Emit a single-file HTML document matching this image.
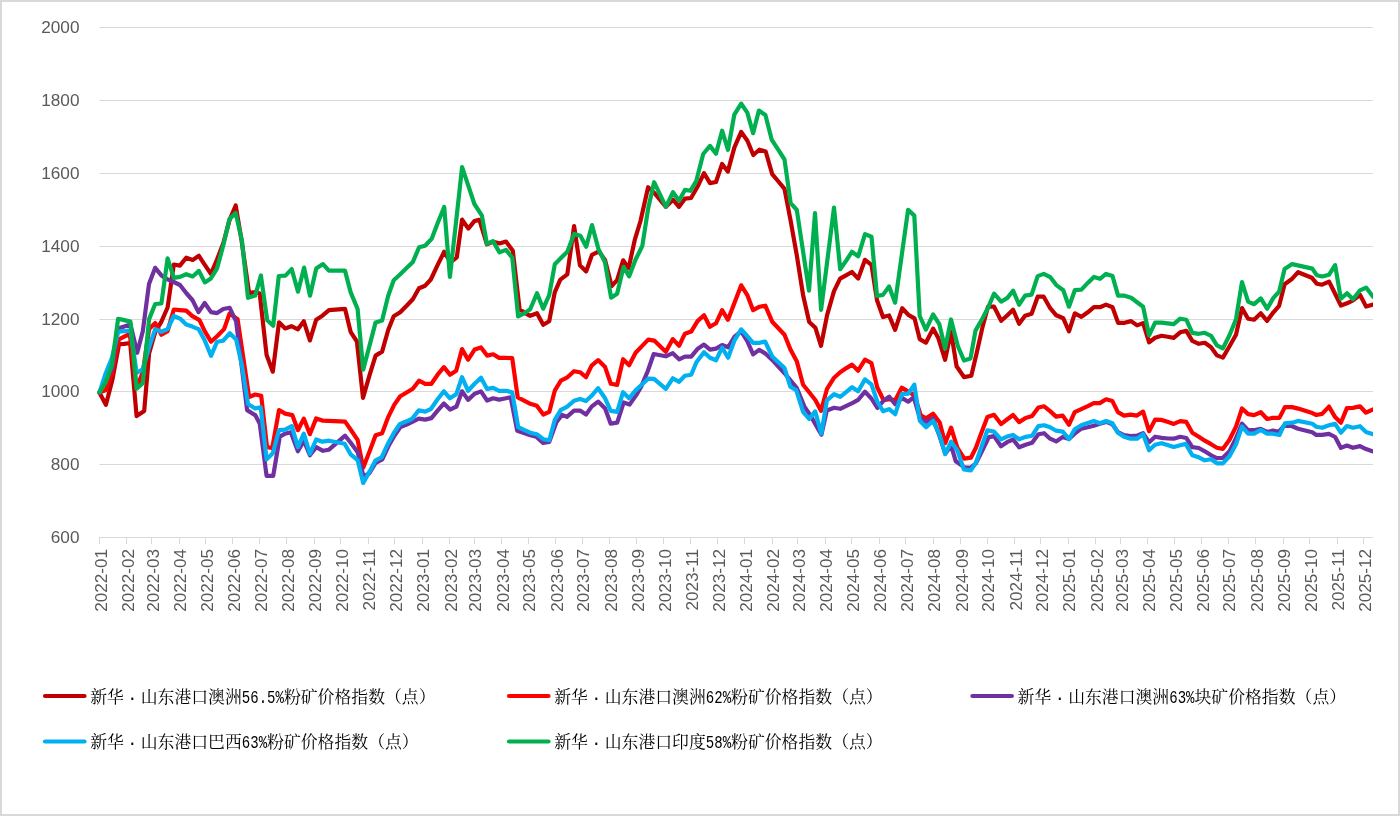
<!DOCTYPE html>
<html lang="zh-CN"><head><meta charset="utf-8"><title>新华·山东港口铁矿石价格指数</title>
<style>
html,body{margin:0;padding:0;background:#fff;}
body{width:1400px;height:816px;overflow:hidden;position:relative;font-family:"Liberation Sans","Noto Sans CJK SC",sans-serif;}
#chart{position:absolute;left:0;top:0;width:1400px;height:816px;box-sizing:border-box;border:2px solid #d9d9d9;}
svg{position:absolute;left:0;top:0;}
.yl{position:absolute;left:0;width:79.5px;text-align:right;font-size:17.2px;color:#595959;line-height:20px;height:20px;}
.xl{position:absolute;top:548px;font-size:17.1px;color:#595959;line-height:20px;height:20px;width:64px;text-align:right;transform-origin:0 0;transform:rotate(-90deg);white-space:nowrap;}
.lg{position:absolute;font-family:"Liberation Mono","Noto Serif CJK SC",serif;font-size:16.85px;color:#000;line-height:20px;height:20px;white-space:nowrap;font-weight:400;}
.lg i{font-style:normal;display:inline-block;width:16.85px;text-align:center;}
.lg b{font-weight:400;font-family:"Liberation Mono",monospace;font-size:14.04px;display:inline-block;transform:scale(1,1.25);transform-origin:50% 76%;}
</style></head><body>
<div id="chart"></div>

<div class="yl" style="top:16.5px">2000</div>
<div class="yl" style="top:89.5px">1800</div>
<div class="yl" style="top:162.5px">1600</div>
<div class="yl" style="top:235.5px">1400</div>
<div class="yl" style="top:308.5px">1200</div>
<div class="yl" style="top:380.5px">1000</div>
<div class="yl" style="top:453.5px">800</div>
<div class="yl" style="top:526.5px">600</div>
<div class="xl" style="left:91.5px;top:613.2px">2022-01</div>
<div class="xl" style="left:119.0px;top:613.2px">2022-02</div>
<div class="xl" style="left:143.7px;top:613.2px">2022-03</div>
<div class="xl" style="left:171.1px;top:613.2px">2022-04</div>
<div class="xl" style="left:197.6px;top:613.2px">2022-05</div>
<div class="xl" style="left:225.0px;top:613.2px">2022-06</div>
<div class="xl" style="left:251.6px;top:613.2px">2022-07</div>
<div class="xl" style="left:279.0px;top:613.2px">2022-08</div>
<div class="xl" style="left:306.4px;top:613.2px">2022-09</div>
<div class="xl" style="left:332.9px;top:613.2px">2022-10</div>
<div class="xl" style="left:360.3px;top:613.2px">2022-11</div>
<div class="xl" style="left:386.8px;top:613.2px">2022-12</div>
<div class="xl" style="left:414.2px;top:613.2px">2023-01</div>
<div class="xl" style="left:441.6px;top:613.2px">2023-02</div>
<div class="xl" style="left:466.4px;top:613.2px">2023-03</div>
<div class="xl" style="left:493.8px;top:613.2px">2023-04</div>
<div class="xl" style="left:520.3px;top:613.2px">2023-05</div>
<div class="xl" style="left:547.7px;top:613.2px">2023-06</div>
<div class="xl" style="left:574.2px;top:613.2px">2023-07</div>
<div class="xl" style="left:601.6px;top:613.2px">2023-08</div>
<div class="xl" style="left:629.0px;top:613.2px">2023-09</div>
<div class="xl" style="left:655.5px;top:613.2px">2023-10</div>
<div class="xl" style="left:682.9px;top:613.2px">2023-11</div>
<div class="xl" style="left:709.5px;top:613.2px">2023-12</div>
<div class="xl" style="left:736.9px;top:613.2px">2024-01</div>
<div class="xl" style="left:764.3px;top:613.2px">2024-02</div>
<div class="xl" style="left:789.9px;top:613.2px">2024-03</div>
<div class="xl" style="left:817.3px;top:613.2px">2024-04</div>
<div class="xl" style="left:843.8px;top:613.2px">2024-05</div>
<div class="xl" style="left:871.2px;top:613.2px">2024-06</div>
<div class="xl" style="left:897.7px;top:613.2px">2024-07</div>
<div class="xl" style="left:925.1px;top:613.2px">2024-08</div>
<div class="xl" style="left:952.6px;top:613.2px">2024-09</div>
<div class="xl" style="left:979.1px;top:613.2px">2024-10</div>
<div class="xl" style="left:1006.5px;top:613.2px">2024-11</div>
<div class="xl" style="left:1033.0px;top:613.2px">2024-12</div>
<div class="xl" style="left:1060.4px;top:613.2px">2025-01</div>
<div class="xl" style="left:1087.8px;top:613.2px">2025-02</div>
<div class="xl" style="left:1112.6px;top:613.2px">2025-03</div>
<div class="xl" style="left:1140.0px;top:613.2px">2025-04</div>
<div class="xl" style="left:1166.5px;top:613.2px">2025-05</div>
<div class="xl" style="left:1193.9px;top:613.2px">2025-06</div>
<div class="xl" style="left:1220.4px;top:613.2px">2025-07</div>
<div class="xl" style="left:1247.8px;top:613.2px">2025-08</div>
<div class="xl" style="left:1275.2px;top:613.2px">2025-09</div>
<div class="xl" style="left:1301.7px;top:613.2px">2025-10</div>
<div class="xl" style="left:1329.1px;top:613.2px">2025-11</div>
<div class="xl" style="left:1355.6px;top:613.2px">2025-12</div>
<svg width="1400" height="816" viewBox="0 0 1400 816">
<line x1="99.5" x2="1373" y1="27.5" y2="27.5" stroke="#d9d9d9" stroke-width="1"/>
<line x1="99.5" x2="1373" y1="100.5" y2="100.5" stroke="#d9d9d9" stroke-width="1"/>
<line x1="99.5" x2="1373" y1="173.5" y2="173.5" stroke="#d9d9d9" stroke-width="1"/>
<line x1="99.5" x2="1373" y1="246.5" y2="246.5" stroke="#d9d9d9" stroke-width="1"/>
<line x1="99.5" x2="1373" y1="319.5" y2="319.5" stroke="#d9d9d9" stroke-width="1"/>
<line x1="99.5" x2="1373" y1="391.5" y2="391.5" stroke="#d9d9d9" stroke-width="1"/>
<line x1="99.5" x2="1373" y1="464.5" y2="464.5" stroke="#d9d9d9" stroke-width="1"/>
<line x1="99.5" x2="1373" y1="537.5" y2="537.5" stroke="#d9d9d9" stroke-width="1"/>
<line x1="99.5" x2="99.5" y1="537" y2="544" stroke="#d9d9d9" stroke-width="1"/>
<line x1="126.5" x2="126.5" y1="537" y2="544" stroke="#d9d9d9" stroke-width="1"/>
<line x1="151.5" x2="151.5" y1="537" y2="544" stroke="#d9d9d9" stroke-width="1"/>
<line x1="179.5" x2="179.5" y1="537" y2="544" stroke="#d9d9d9" stroke-width="1"/>
<line x1="205.5" x2="205.5" y1="537" y2="544" stroke="#d9d9d9" stroke-width="1"/>
<line x1="232.5" x2="232.5" y1="537" y2="544" stroke="#d9d9d9" stroke-width="1"/>
<line x1="259.5" x2="259.5" y1="537" y2="544" stroke="#d9d9d9" stroke-width="1"/>
<line x1="286.5" x2="286.5" y1="537" y2="544" stroke="#d9d9d9" stroke-width="1"/>
<line x1="314.5" x2="314.5" y1="537" y2="544" stroke="#d9d9d9" stroke-width="1"/>
<line x1="340.5" x2="340.5" y1="537" y2="544" stroke="#d9d9d9" stroke-width="1"/>
<line x1="368.5" x2="368.5" y1="537" y2="544" stroke="#d9d9d9" stroke-width="1"/>
<line x1="394.5" x2="394.5" y1="537" y2="544" stroke="#d9d9d9" stroke-width="1"/>
<line x1="422.5" x2="422.5" y1="537" y2="544" stroke="#d9d9d9" stroke-width="1"/>
<line x1="449.5" x2="449.5" y1="537" y2="544" stroke="#d9d9d9" stroke-width="1"/>
<line x1="474.5" x2="474.5" y1="537" y2="544" stroke="#d9d9d9" stroke-width="1"/>
<line x1="501.5" x2="501.5" y1="537" y2="544" stroke="#d9d9d9" stroke-width="1"/>
<line x1="528.5" x2="528.5" y1="537" y2="544" stroke="#d9d9d9" stroke-width="1"/>
<line x1="555.5" x2="555.5" y1="537" y2="544" stroke="#d9d9d9" stroke-width="1"/>
<line x1="582.5" x2="582.5" y1="537" y2="544" stroke="#d9d9d9" stroke-width="1"/>
<line x1="609.5" x2="609.5" y1="537" y2="544" stroke="#d9d9d9" stroke-width="1"/>
<line x1="636.5" x2="636.5" y1="537" y2="544" stroke="#d9d9d9" stroke-width="1"/>
<line x1="663.5" x2="663.5" y1="537" y2="544" stroke="#d9d9d9" stroke-width="1"/>
<line x1="690.5" x2="690.5" y1="537" y2="544" stroke="#d9d9d9" stroke-width="1"/>
<line x1="717.5" x2="717.5" y1="537" y2="544" stroke="#d9d9d9" stroke-width="1"/>
<line x1="744.5" x2="744.5" y1="537" y2="544" stroke="#d9d9d9" stroke-width="1"/>
<line x1="772.5" x2="772.5" y1="537" y2="544" stroke="#d9d9d9" stroke-width="1"/>
<line x1="797.5" x2="797.5" y1="537" y2="544" stroke="#d9d9d9" stroke-width="1"/>
<line x1="825.5" x2="825.5" y1="537" y2="544" stroke="#d9d9d9" stroke-width="1"/>
<line x1="851.5" x2="851.5" y1="537" y2="544" stroke="#d9d9d9" stroke-width="1"/>
<line x1="879.5" x2="879.5" y1="537" y2="544" stroke="#d9d9d9" stroke-width="1"/>
<line x1="905.5" x2="905.5" y1="537" y2="544" stroke="#d9d9d9" stroke-width="1"/>
<line x1="933.5" x2="933.5" y1="537" y2="544" stroke="#d9d9d9" stroke-width="1"/>
<line x1="960.5" x2="960.5" y1="537" y2="544" stroke="#d9d9d9" stroke-width="1"/>
<line x1="987.5" x2="987.5" y1="537" y2="544" stroke="#d9d9d9" stroke-width="1"/>
<line x1="1014.5" x2="1014.5" y1="537" y2="544" stroke="#d9d9d9" stroke-width="1"/>
<line x1="1040.5" x2="1040.5" y1="537" y2="544" stroke="#d9d9d9" stroke-width="1"/>
<line x1="1068.5" x2="1068.5" y1="537" y2="544" stroke="#d9d9d9" stroke-width="1"/>
<line x1="1095.5" x2="1095.5" y1="537" y2="544" stroke="#d9d9d9" stroke-width="1"/>
<line x1="1120.5" x2="1120.5" y1="537" y2="544" stroke="#d9d9d9" stroke-width="1"/>
<line x1="1147.5" x2="1147.5" y1="537" y2="544" stroke="#d9d9d9" stroke-width="1"/>
<line x1="1174.5" x2="1174.5" y1="537" y2="544" stroke="#d9d9d9" stroke-width="1"/>
<line x1="1201.5" x2="1201.5" y1="537" y2="544" stroke="#d9d9d9" stroke-width="1"/>
<line x1="1228.5" x2="1228.5" y1="537" y2="544" stroke="#d9d9d9" stroke-width="1"/>
<line x1="1255.5" x2="1255.5" y1="537" y2="544" stroke="#d9d9d9" stroke-width="1"/>
<line x1="1283.5" x2="1283.5" y1="537" y2="544" stroke="#d9d9d9" stroke-width="1"/>
<line x1="1309.5" x2="1309.5" y1="537" y2="544" stroke="#d9d9d9" stroke-width="1"/>
<line x1="1337.5" x2="1337.5" y1="537" y2="544" stroke="#d9d9d9" stroke-width="1"/>
<line x1="1363.5" x2="1363.5" y1="537" y2="544" stroke="#d9d9d9" stroke-width="1"/>
<clipPath id="cp"><rect x="97" y="20" width="1276" height="530"/></clipPath>
<g clip-path="url(#cp)" fill="none" stroke-width="4.2" stroke-linejoin="round" stroke-linecap="round">
<polyline stroke="#C00000" points="99.5,392.8 105.9,404.8 112.3,380.2 119.1,344.2 124.2,343.8 130.2,343.0 136.6,416.1 144.2,410.9 149.1,353.3 155.2,332.2 161.4,321.6 167.6,307.5 173.8,264.5 179.9,265.6 186.2,257.7 192.7,259.9 198.9,255.8 204.8,264.8 210.9,273.9 217.1,259.3 223.3,243.2 229.5,220.1 235.7,205.5 241.5,240.2 249.1,293.1 255.2,292.1 259.7,293.6 266.6,355.1 272.8,371.7 279.0,322.3 285.2,328.4 291.4,326.2 297.9,329.3 303.8,321.3 309.9,340.4 316.2,319.7 322.4,315.7 329.0,310.2 345.1,308.9 350.6,331.8 356.9,341.5 363.0,397.8 369.4,375.7 375.6,355.6 382.1,351.6 388.2,330.0 393.7,316.3 400.2,312.3 406.6,305.8 412.8,299.2 419.0,288.2 425.2,285.7 430.8,279.5 437.8,264.7 444.2,251.8 450.4,262.3 456.8,257.3 462.1,219.6 468.3,228.6 474.4,221.1 479.4,219.8 486.9,244.3 493.0,241.7 499.5,243.4 506.0,241.5 512.8,250.8 519.6,309.2 524.6,312.8 530.2,315.8 537.0,313.2 543.2,324.8 549.2,321.3 554.8,292.2 560.3,279.6 567.3,274.4 574.1,226.1 579.9,265.3 586.2,271.4 592.0,254.8 598.9,251.3 605.1,260.3 611.6,286.1 617.1,280.1 623.1,260.3 628.6,268.3 634.7,240.2 640.5,221.0 648.1,187.2 654.1,192.7 665.9,206.8 673.0,199.7 679.0,206.8 684.9,198.7 691.0,198.0 697.5,186.8 704.0,173.2 710.0,183.1 716.0,182.0 722.1,163.9 727.8,171.6 734.4,147.4 741.2,131.9 747.4,140.7 753.3,155.0 759.3,149.7 765.7,151.5 772.2,174.2 778.4,181.5 784.5,188.8 790.7,221.2 796.8,255.3 803.1,295.2 809.2,322.0 815.4,327.8 821.0,345.8 827.1,315.2 834.0,291.1 840.1,278.6 846.4,275.1 851.9,272.0 858.2,278.6 865.0,259.8 871.5,264.9 877.0,300.2 883.0,317.0 889.1,315.5 895.1,329.9 902.2,308.2 908.3,314.8 914.5,318.3 919.7,339.1 925.9,342.7 933.1,328.6 938.3,338.1 945.1,359.8 951.0,331.6 956.6,366.3 964.0,377.1 971.3,375.8 976.4,354.2 982.6,326.6 988.0,306.7 994.1,306.7 1001.2,320.8 1007.4,315.3 1013.1,309.7 1019.1,323.8 1025.1,315.8 1031.6,313.8 1037.7,296.7 1043.7,296.7 1050.2,308.2 1056.3,315.3 1063.3,318.3 1069.0,331.4 1074.8,313.3 1081.4,316.8 1087.8,312.3 1093.9,307.2 1100.0,307.2 1106.0,304.6 1112.5,307.2 1118.1,322.8 1124.6,322.8 1131.1,321.1 1137.1,325.4 1143.1,323.1 1149.1,342.3 1155.1,337.8 1161.6,335.8 1167.7,336.8 1173.7,337.9 1180.2,332.3 1186.3,330.9 1192.3,340.8 1198.8,343.8 1204.8,342.8 1211.1,347.3 1216.9,355.4 1222.9,357.6 1229.5,346.3 1236.0,334.8 1242.0,308.1 1248.1,318.7 1254.1,319.7 1260.8,313.3 1267.1,320.8 1273.4,312.3 1279.1,305.8 1284.6,284.2 1292.2,278.7 1298.1,272.2 1311.8,277.7 1316.7,283.7 1322.1,284.7 1329.1,281.6 1335.1,293.8 1340.9,305.5 1347.0,303.3 1353.0,300.3 1360.0,294.8 1366.1,306.6 1373.1,304.6"/>
<polyline stroke="#FF0000" points="99.5,392.3 105.7,390.3 111.9,373.2 118.9,339.4 124.2,336.7 129.7,334.0 136.6,387.7 142.8,372.2 149.1,329.1 155.2,323.1 161.4,334.7 167.6,331.2 173.8,309.5 180.0,310.1 186.2,310.6 192.4,316.1 199.5,320.1 204.7,331.2 211.0,341.7 217.1,336.2 224.1,329.1 229.5,313.6 237.6,319.2 249.1,397.0 255.2,394.5 261.2,395.8 267.0,447.0 272.2,448.3 279.0,410.0 285.2,413.6 292.3,415.1 297.9,430.2 303.8,418.6 309.9,434.2 316.2,418.4 322.4,420.6 329.0,420.9 345.1,421.6 351.1,430.2 357.6,439.9 363.2,467.8 369.4,451.8 375.6,435.2 382.1,433.2 388.2,417.1 394.2,404.9 400.2,396.3 406.6,392.5 412.8,388.8 419.0,380.7 425.2,383.8 431.4,383.8 437.6,374.7 443.9,367.2 450.0,374.7 456.2,370.7 462.0,349.1 468.1,359.7 474.6,349.6 481.0,347.4 487.1,355.6 493.2,354.3 499.1,357.9 506.0,357.9 512.2,358.1 517.7,397.3 524.6,400.8 530.3,403.8 536.8,405.8 543.3,414.5 549.3,411.9 554.9,390.3 560.9,380.7 566.9,377.7 574.0,371.2 580.0,372.2 586.0,377.2 591.6,365.6 598.1,360.1 605.1,367.1 610.8,383.8 617.1,384.9 623.1,359.2 629.1,365.2 635.6,352.7 642.2,345.9 648.2,339.6 654.2,340.6 665.8,351.7 672.8,339.1 679.1,345.8 684.9,333.7 691.2,331.6 697.5,321.1 704.0,315.2 709.9,326.8 716.0,323.3 722.1,310.2 728.0,319.8 734.6,302.4 741.2,285.3 747.3,295.1 753.1,310.2 759.6,306.7 765.3,305.7 772.2,321.7 778.4,328.2 784.5,334.8 790.7,350.1 796.9,361.6 803.1,384.7 809.2,392.3 815.5,400.3 821.0,410.9 826.9,389.2 834.1,377.7 840.2,372.2 846.4,368.1 852.1,364.6 858.1,370.7 865.0,359.6 871.4,363.0 877.2,387.2 883.6,400.2 889.1,399.1 895.2,400.2 901.7,387.6 908.3,391.6 914.3,395.1 920.7,415.2 926.1,418.3 933.1,413.7 939.7,422.6 945.2,443.2 951.1,427.6 957.3,447.7 964.3,458.7 970.9,457.7 975.9,447.7 981.6,432.3 987.4,417.0 994.0,414.8 1001.0,424.1 1007.0,419.5 1013.1,415.0 1019.1,422.1 1025.6,418.0 1032.1,416.1 1038.4,407.5 1044.1,406.3 1050.1,411.1 1056.1,416.6 1062.7,415.6 1069.0,424.7 1074.7,412.1 1081.3,409.1 1087.8,406.1 1093.8,403.1 1099.8,403.1 1106.1,399.3 1112.4,401.1 1117.9,412.1 1124.0,415.6 1130.5,414.6 1137.0,415.6 1143.1,411.6 1149.1,431.2 1155.1,419.6 1161.6,419.9 1168.2,422.1 1173.7,423.9 1180.2,421.1 1186.3,421.9 1192.3,432.7 1198.8,436.7 1204.8,440.7 1211.1,444.2 1216.9,447.7 1222.9,448.9 1229.5,439.7 1236.0,426.6 1242.0,408.5 1248.1,414.1 1254.1,415.1 1260.8,412.2 1267.1,419.0 1272.9,417.9 1279.4,417.9 1284.9,407.1 1292.2,407.1 1298.1,408.6 1312.3,413.1 1316.3,415.0 1322.1,413.9 1329.0,406.6 1335.1,417.1 1340.9,422.7 1346.9,408.1 1353.0,407.9 1360.0,406.3 1366.0,412.7 1373.1,409.4"/>
<polyline stroke="#7030A0" points="99.5,392.3 105.7,380.2 111.9,369.1 118.1,328.6 124.2,326.6 130.5,324.6 137.2,352.8 142.8,331.2 149.0,284.0 155.2,267.8 161.4,275.4 167.6,279.4 173.8,282.0 180.0,285.0 186.2,293.0 192.4,300.0 198.5,312.1 204.7,303.0 211.0,312.1 217.1,313.1 223.3,309.0 229.7,307.8 236.1,321.3 247.1,410.1 255.2,415.1 259.7,423.6 266.6,475.9 273.2,475.9 279.8,436.7 285.2,433.7 290.8,432.3 297.9,451.3 303.8,440.7 309.9,455.3 316.2,447.2 323.0,450.8 329.0,449.7 345.1,435.7 351.1,443.2 357.7,452.3 363.5,476.8 369.4,473.1 375.6,462.9 382.3,459.3 388.5,446.0 394.0,436.4 400.4,427.1 406.6,424.6 412.8,421.6 418.8,418.6 425.2,419.6 431.4,418.1 437.6,410.6 443.9,403.5 450.0,409.6 456.5,406.5 462.0,391.3 468.1,399.9 474.6,393.8 481.0,391.4 487.1,400.5 493.2,398.3 499.1,399.6 506.0,398.3 510.7,397.3 517.2,430.7 524.6,433.2 530.3,435.2 536.3,436.7 542.8,442.8 549.3,441.8 556.4,422.2 561.9,414.9 566.9,416.8 574.0,410.6 580.0,410.6 586.0,414.6 591.6,406.6 598.1,401.6 605.1,408.6 610.7,423.7 617.2,422.7 623.6,402.5 629.6,404.6 636.2,395.1 641.2,386.6 647.7,371.3 653.7,354.0 665.8,356.3 672.8,353.2 679.1,359.3 684.9,356.7 691.2,356.7 697.4,349.1 704.0,344.6 710.0,349.6 716.0,348.6 722.1,345.0 728.1,347.3 734.6,336.6 741.2,331.4 747.3,341.2 753.1,354.4 759.1,349.8 765.9,353.9 772.2,359.9 784.5,373.2 790.7,380.7 796.9,388.2 804.3,406.3 810.4,415.4 821.4,434.7 826.9,410.4 834.1,407.8 840.2,408.8 846.4,405.8 852.7,402.8 858.1,399.8 865.0,391.7 871.4,398.5 877.4,408.0 883.1,401.2 889.1,396.6 895.2,404.2 902.2,398.1 908.3,401.7 913.8,397.1 919.8,418.2 926.1,421.8 933.1,418.7 939.7,436.6 945.2,453.7 951.1,445.7 955.8,461.3 964.3,467.3 970.4,467.8 975.9,463.3 982.4,450.2 988.9,437.1 994.0,436.1 1001.0,446.2 1007.0,442.2 1013.1,439.5 1019.1,447.3 1025.6,444.7 1032.1,442.7 1038.4,434.2 1044.1,433.2 1050.1,438.7 1056.1,441.4 1062.7,437.0 1069.0,438.9 1074.7,433.7 1081.3,428.7 1087.8,427.2 1093.8,425.7 1099.8,423.7 1106.1,421.9 1112.4,424.2 1117.9,432.2 1124.0,435.2 1130.5,436.2 1137.0,435.7 1143.1,433.1 1149.1,442.3 1155.1,436.7 1161.6,437.9 1168.2,438.5 1173.7,438.7 1180.2,436.8 1186.3,438.0 1192.3,447.2 1198.8,448.0 1204.8,451.3 1211.1,455.3 1216.9,458.1 1222.9,457.8 1229.5,451.3 1236.0,438.2 1242.0,423.6 1248.1,430.2 1254.1,430.2 1260.6,428.8 1267.1,432.0 1272.9,430.6 1278.9,431.7 1284.9,424.8 1292.2,426.2 1298.1,428.7 1312.3,432.2 1316.3,434.9 1322.1,434.9 1329.0,433.9 1335.1,437.0 1340.9,447.9 1346.9,445.5 1353.0,447.8 1360.0,446.1 1366.0,449.1 1373.1,451.4"/>
<polyline stroke="#00B0F0" points="99.5,392.3 105.7,373.2 111.9,358.1 118.1,331.7 124.2,331.2 130.5,330.2 136.6,372.9 142.8,369.3 149.1,347.2 155.2,329.1 161.4,331.8 167.6,329.1 173.8,316.0 180.0,318.6 186.2,324.6 192.4,326.6 198.5,329.1 204.7,340.2 211.0,355.8 217.1,341.7 223.3,340.7 229.8,333.2 236.1,339.4 241.9,365.2 248.0,404.0 255.2,408.4 260.7,407.2 266.6,459.3 272.8,453.3 279.0,430.2 285.2,429.6 291.8,426.1 297.9,447.2 303.8,433.7 309.9,453.8 316.2,439.5 322.4,441.7 329.0,440.7 344.6,443.7 350.6,454.3 357.6,460.1 363.2,482.9 369.4,471.9 375.6,460.3 381.6,457.3 388.2,443.2 393.7,433.2 399.7,424.1 406.6,421.3 412.3,418.6 418.8,410.3 425.2,411.6 430.9,409.0 437.6,399.3 443.9,391.3 450.0,398.3 456.2,394.3 462.0,377.2 468.1,390.8 474.6,383.8 481.0,377.7 487.1,388.9 493.2,387.9 499.1,390.8 506.0,390.8 512.2,392.3 518.2,427.2 524.6,430.2 530.3,432.7 536.8,434.2 543.3,439.2 549.3,440.3 554.9,419.6 560.9,409.8 566.9,406.8 574.0,400.8 580.0,399.0 586.0,401.0 591.6,395.8 598.1,388.2 605.1,398.3 610.7,410.9 617.2,411.9 623.0,392.2 629.1,398.3 635.6,390.4 642.2,384.3 648.2,378.7 654.0,378.8 665.8,388.8 672.8,378.3 679.1,381.8 684.9,375.8 691.2,374.8 696.4,362.2 704.0,352.2 710.0,357.7 716.0,360.3 722.1,347.6 728.1,357.7 734.6,340.1 741.2,329.4 747.3,336.2 753.1,342.8 759.8,342.8 765.1,341.5 772.2,356.4 784.5,368.1 790.3,386.7 796.3,390.3 803.1,411.9 809.2,418.9 815.2,411.4 821.3,433.7 826.9,400.3 834.1,394.2 840.2,396.8 846.4,391.8 852.1,387.2 858.1,391.3 865.0,379.4 871.4,384.4 877.4,401.7 883.1,411.3 889.1,409.1 895.2,414.2 901.7,394.1 908.3,393.6 914.3,384.6 919.8,420.8 926.1,427.3 933.1,420.8 939.7,435.1 945.2,454.2 951.1,441.7 957.3,450.2 963.8,469.3 970.9,470.3 975.9,462.8 981.6,446.4 987.4,430.3 994.0,431.6 1001.0,439.3 1007.0,436.6 1013.1,434.9 1019.1,439.3 1025.6,436.9 1032.1,435.7 1038.4,426.1 1044.1,425.2 1050.1,427.2 1056.1,430.7 1062.7,431.7 1069.0,439.2 1074.7,429.2 1081.3,425.2 1087.8,423.0 1093.8,420.9 1099.8,423.3 1106.1,421.0 1112.4,423.2 1117.9,432.7 1124.0,436.7 1130.5,438.7 1137.0,438.7 1143.1,434.2 1149.1,450.3 1155.1,444.8 1161.6,443.2 1168.2,445.3 1173.7,447.0 1180.2,445.2 1185.7,443.9 1192.3,455.3 1198.8,457.3 1204.8,460.3 1211.1,459.3 1216.9,463.3 1222.9,463.3 1229.5,456.3 1236.0,444.2 1242.0,426.6 1248.1,433.7 1254.1,433.7 1260.8,429.9 1267.1,433.7 1272.9,433.7 1279.4,435.0 1284.9,423.3 1292.2,422.7 1298.1,420.9 1312.3,423.7 1316.3,426.7 1322.1,427.8 1329.0,425.2 1335.1,423.9 1340.9,432.7 1346.9,426.0 1353.0,427.7 1360.0,426.2 1366.0,432.0 1373.1,434.3"/>
<polyline stroke="#00B050" points="99.5,392.3 105.7,382.2 111.9,365.1 118.1,318.8 124.2,320.1 130.5,321.6 136.6,388.7 142.8,383.2 149.1,319.1 155.2,304.0 161.4,303.5 167.6,258.3 173.8,277.9 179.9,276.9 186.2,274.2 192.7,276.5 198.9,270.9 204.8,282.4 210.9,278.4 217.1,268.3 223.3,245.2 229.5,219.1 235.7,213.1 241.9,240.2 248.0,297.8 255.2,295.6 260.9,275.5 267.2,320.3 273.2,325.8 278.8,276.0 285.4,275.6 291.7,269.1 298.0,291.7 304.1,267.6 310.0,295.7 316.2,268.6 323.0,264.1 328.9,270.7 345.0,270.6 350.6,292.1 357.6,309.0 363.2,369.7 375.6,322.4 382.1,320.4 388.2,295.7 393.7,280.2 400.0,274.5 406.6,268.1 412.9,261.9 419.1,247.2 425.1,245.7 431.7,238.7 437.9,222.6 444.2,207.0 449.9,276.9 456.5,217.9 462.1,167.1 468.2,185.4 474.4,204.0 481.9,215.6 486.9,243.8 493.0,241.1 499.5,252.4 506.0,249.9 512.3,257.8 518.1,316.3 524.6,313.1 530.2,309.2 537.0,293.2 543.2,308.7 549.2,295.2 554.8,264.3 561.7,257.3 567.3,251.8 574.1,233.9 580.4,235.7 586.2,246.7 592.0,225.1 598.5,249.2 605.0,262.3 611.1,297.7 617.1,293.7 623.6,266.8 629.1,276.4 635.7,259.3 642.3,246.0 648.2,208.3 654.1,182.2 665.9,206.8 673.0,192.2 679.0,200.8 684.9,189.9 690.4,190.8 696.2,181.2 703.2,154.0 710.0,145.9 716.0,153.7 722.1,130.7 728.0,149.8 734.3,114.6 741.2,103.6 747.3,112.6 753.1,133.2 758.9,110.6 765.4,115.1 771.8,139.9 778.2,149.7 784.5,159.5 790.7,203.2 796.8,210.0 809.0,290.7 815.0,213.1 821.1,309.8 834.0,207.6 840.2,269.2 846.4,260.4 851.9,251.8 858.2,256.3 865.0,234.1 871.5,236.7 877.0,296.0 883.0,294.9 889.1,286.4 895.1,302.7 908.1,209.8 914.3,215.6 919.7,316.0 925.9,329.6 933.1,314.5 939.3,324.1 945.1,348.7 951.0,319.5 957.9,346.2 964.0,360.5 970.5,358.5 975.5,330.6 982.6,318.3 988.3,307.2 994.1,293.7 1001.2,301.7 1007.4,297.9 1013.1,290.7 1019.1,304.7 1025.1,295.7 1031.6,294.7 1037.7,276.1 1043.7,273.9 1050.2,277.1 1056.3,285.1 1063.3,290.2 1069.0,306.7 1074.8,290.2 1081.4,289.6 1087.8,282.9 1093.9,276.9 1100.0,278.8 1106.0,273.9 1112.5,276.1 1118.1,295.7 1124.6,295.7 1131.1,297.7 1137.1,302.2 1143.1,306.7 1149.1,335.3 1155.1,322.7 1161.6,322.7 1167.7,323.4 1173.7,324.2 1180.2,318.7 1186.3,319.7 1192.3,332.8 1198.8,333.8 1204.8,332.8 1211.1,335.8 1216.9,345.3 1222.9,348.4 1229.5,335.3 1236.0,319.2 1242.0,282.0 1248.1,301.6 1254.1,304.2 1260.8,298.4 1267.1,308.7 1273.4,297.9 1279.1,291.8 1284.6,269.1 1292.2,264.1 1312.3,268.6 1316.7,275.2 1322.1,276.5 1329.1,274.7 1335.1,265.1 1340.9,298.8 1347.0,293.3 1353.0,299.3 1360.0,290.3 1366.1,287.6 1373.1,296.8"/>
</g>
<line x1="45" x2="84.5" y1="696" y2="696" stroke="#C00000" stroke-width="4.2" stroke-linecap="round"/>
<line x1="509" x2="548.5" y1="696" y2="696" stroke="#FF0000" stroke-width="4.2" stroke-linecap="round"/>
<line x1="972.4" x2="1011.9" y1="696" y2="696" stroke="#7030A0" stroke-width="4.2" stroke-linecap="round"/>
<line x1="45" x2="84.5" y1="741.5" y2="741.5" stroke="#00B0F0" stroke-width="4.2" stroke-linecap="round"/>
<line x1="509" x2="548.5" y1="741.5" y2="741.5" stroke="#00B050" stroke-width="4.2" stroke-linecap="round"/>
</svg>
<div class="lg" style="left:90.2px;top:688.5px">新华<i>·</i>山东港口澳洲<b>56.5%</b>粉矿价格指数（点）</div>
<div class="lg" style="left:554.2px;top:688.5px">新华<i>·</i>山东港口澳洲<b>62%</b>粉矿价格指数（点）</div>
<div class="lg" style="left:1017.6px;top:688.5px">新华<i>·</i>山东港口澳洲<b>63%</b>块矿价格指数（点）</div>
<div class="lg" style="left:90.2px;top:734.0px">新华<i>·</i>山东港口巴西<b>63%</b>粉矿价格指数（点）</div>
<div class="lg" style="left:554.2px;top:734.0px">新华<i>·</i>山东港口印度<b>58%</b>粉矿价格指数（点）</div>
</body></html>
